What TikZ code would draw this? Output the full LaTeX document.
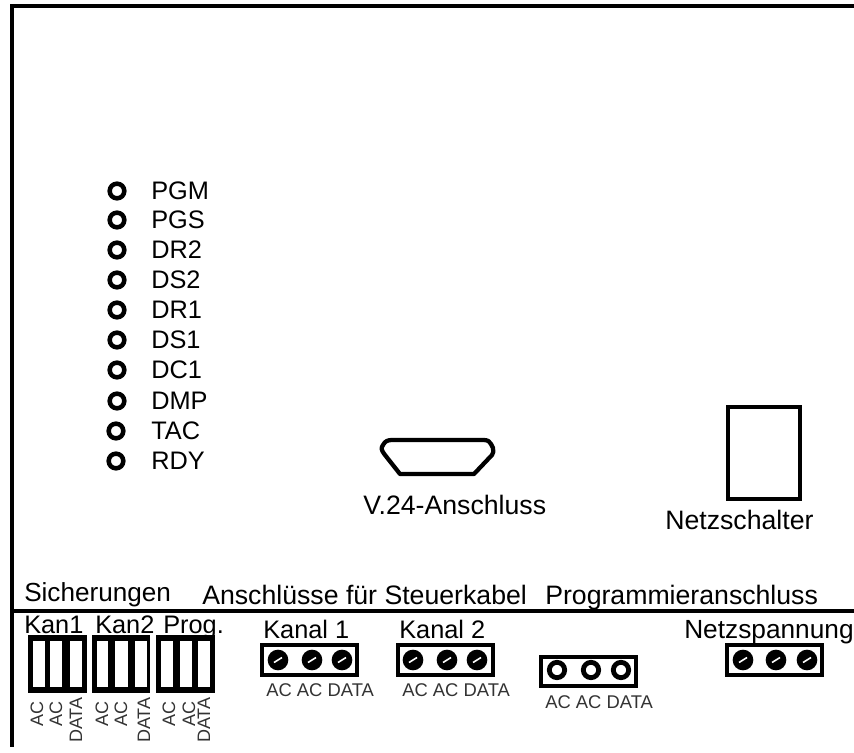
\documentclass[tikz,border=0pt]{standalone}
\usepackage{fontspec}
\setmainfont{Liberation Sans}
\tikzset{
  lbl/.style={inner sep=0pt,anchor=base west,font=\fontsize{19pt}{21pt}\selectfont},
  widelbl/.style={inner sep=0pt,anchor=base west,font=\fontsize{20pt}{22pt}\selectfont},
  small/.style={inner sep=0pt,anchor=base west,text=black!80,font=\fontsize{13.8pt}{15pt}\selectfont},
  vsmall/.style={inner sep=0pt,anchor=base west,rotate=90,text=black!80,font=\fontsize{13.5pt}{15pt}\selectfont},
  led/.style={circle,draw=black,line width=3.4pt,fill=white,minimum size=11pt,inner sep=0pt},
  frame/.style={draw=black,line width=3pt,line cap=rect},
  fuse/.style={fill=black,draw=none},
  slot/.style={fill=white,draw=none},
  termbox/.style={draw=black,line width=3pt,fill=white},
  screw/.style={circle,fill=black,minimum size=15.5pt,inner sep=0pt},
  ringt/.style={circle,draw=black,line width=3.6pt,fill=white,minimum size=11.5pt,inner sep=0pt},
}
\newcommand{\lednode}[3]{%
  \node[led] (l#1) at (#2,#3) {};
  \node[lbl] (t#1) at (151,#3+8.5) {#1};
}
\begin{document}
\begin{tikzpicture}[x=0.75pt,y=-0.75pt]
\useasboundingbox (0,0) rectangle (854,753);
\draw[frame] (854,6) -- (12,6) -- (12,745);
\draw[frame] (12,610.5) -- (854,610.5);

\lednode{PGM}{117}{191}
\lednode{PGS}{117}{220}
\lednode{DR2}{117}{250}
\lednode{DS2}{117}{280}
\lednode{DR1}{117}{310}
\lednode{DS1}{117}{340}
\lednode{DC1}{117}{370}
\lednode{DMP}{117}{401}
\lednode{TAC}{116}{431}
\lednode{RDY}{116}{461}

\draw[black,line width=3.2pt,line join=round,fill=white]
  (392,440) -- (484,440) .. controls (488,440) and (490,442) .. (491,444)
  -- (493,448) .. controls (494,451) and (493,453) .. (492,455)
  -- (474,474) -- (400,474) -- (385,455)
  .. controls (381,450) and (381,448) .. (383,445)
  .. controls (385,441) and (388,440) .. (392,440) -- cycle;
\node[widelbl] (v24) at (363,514) {V.24-Anschluss};

\draw[black,line width=3pt] (728,407) rectangle (800,499);
\node[widelbl] (ns) at (665,529) {Netzschalter};

\node[lbl,font=\fontsize{19.6pt}{21pt}\selectfont] (sich) at (24,601) {Sicherungen};
\node[widelbl] (ansch) at (202,604) {Anschlüsse für Steuerkabel};
\node[widelbl] (prog) at (545,604) {Programmieranschluss};

\node[lbl] (k1) at (24,633) {Kan1};
\node[lbl] (k2) at (95,633) {Kan2};
\node[lbl] (k3) at (163,633) {Prog.};

\fill[fuse] (28,635) rectangle (87,693);
\fill[slot] (33,641) rectangle (45,687);
\fill[slot] (50,641) rectangle (62,687);
\fill[slot] (70,641) rectangle (82,687);
\fill[fuse] (92,635) rectangle (150,693);
\fill[slot] (97,641) rectangle (108,687);
\fill[slot] (115,641) rectangle (128,687);
\fill[slot] (135,641) rectangle (147,687);
\fill[fuse] (156,635) rectangle (215,693);
\fill[slot] (161,641) rectangle (173,687);
\fill[slot] (180,641) rectangle (192,687);
\fill[slot] (198,641) rectangle (210,687);

\node[vsmall] at (43,727) {AC};
\node[vsmall] at (62,727) {AC};
\node[vsmall] at (82,743) {DATA};
\node[vsmall] at (108,727) {AC};
\node[vsmall] at (127,727) {AC};
\node[vsmall] at (150,743) {DATA};
\node[vsmall] at (175,727) {AC};
\node[vsmall] at (195,727) {AC};
\node[vsmall] at (210,743) {DATA};

\node[lbl] (kanal1) at (263,638) {Kanal 1};
\node[lbl] (kanal2) at (399,638) {Kanal 2};
\node[lbl,font=\fontsize{19.7pt}{21pt}\selectfont] (netz) at (684,638) {Netzspannung};

\draw[termbox] (261.5,644.5) rectangle (356.5,674.5);
\draw[termbox] (397.5,644.5) rectangle (492.5,674.5);
\draw[termbox] (726.5,644.5) rectangle (821.5,674.5);
\draw[termbox] (540.5,656.5) rectangle (635.5,685.5);

\foreach \cx in {278,312,342, 413,447,477, 743,776,807}{
  \node[screw] at (\cx,660) {};
  \draw[white,line width=1.2pt] (\cx-4,662.5) -- (\cx+4,657.5);
}
\foreach \cx in {557,591,621}{
  \node[ringt] at (\cx,670) {};
}
\node[small] at (266,696) {AC AC DATA};
\node[small] at (402,696) {AC AC DATA};
\node[small] at (545,708) {AC AC DATA};
\end{tikzpicture}
\end{document}
